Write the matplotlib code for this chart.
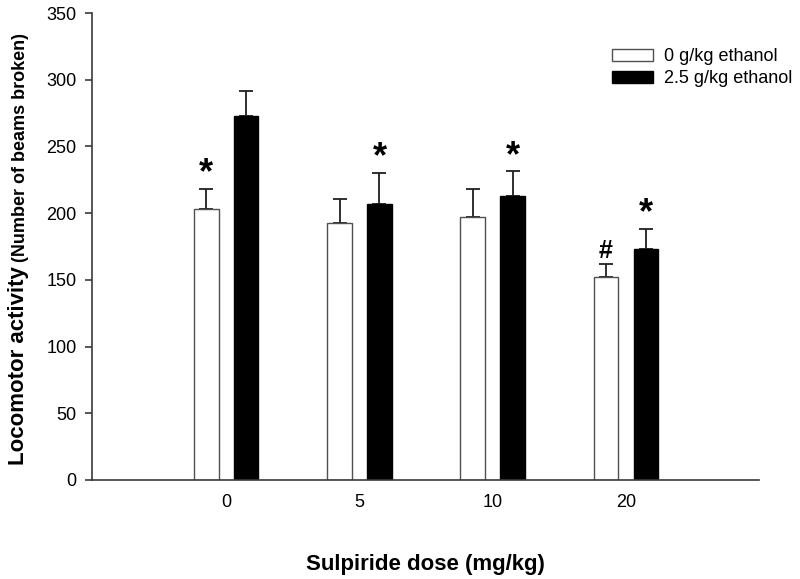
import numpy as np
import matplotlib
matplotlib.use("Agg")
import matplotlib.pyplot as plt

plt.rcParams['font.family'] = ['Liberation Sans', 'DejaVu Sans']

# sulpiride doses (mg/kg)
doses = ["0", "5", "10", "20"]

# locomotor activity, mean and SEM (upper error bar only)
water_mean = [203, 192.5, 197, 152.5]
water_sem = [15.4, 18.0, 21.0, 9.5]
ethanol_mean = [273, 206.5, 213, 173.5]
ethanol_sem = [18.4, 23.5, 18.4, 14.7]

# significance marks: (dose index, group, symbol)
marks = [(0, "water", "*"), (1, "ethanol", "*"), (2, "ethanol", "*"),
         (3, "water", "#"), (3, "ethanol", "*")]

fig = plt.figure(figsize=(8, 5.79), dpi=100)
ax = fig.add_axes([0.1146, 0.171, 0.8344, 0.8065])

x = np.arange(len(doses))
off = 0.15
width = 0.184
axis_col = "#3a3a3a"

ax.bar(x - off, water_mean, width, color="white", edgecolor="#505050",
       linewidth=1.0, label="0 g/kg ethanol", zorder=2)
ax.bar(x + off, ethanol_mean, width, color="black", edgecolor="black",
       linewidth=1.0, label="2.5 g/kg ethanol", zorder=2)

ax.errorbar(x - off, water_mean, yerr=[np.zeros(4), water_sem], fmt="none",
            ecolor="#202020", elinewidth=1.3, capsize=4.7, capthick=1.3, zorder=1)
ax.errorbar(x + off, ethanol_mean, yerr=[np.zeros(4), ethanol_sem], fmt="none",
            ecolor="#202020", elinewidth=1.3, capsize=4.7, capthick=1.3, zorder=1)

for i, grp, sym in marks:
    if grp == "water":
        xi, top = x[i] - off, water_mean[i] + water_sem[i]
    else:
        xi, top = x[i] + off, ethanol_mean[i] + ethanol_sem[i]
    size = 26 if sym == "*" else 18
    ax.annotate(sym, xy=(xi, top), xytext=(0, 4), textcoords="offset points",
                ha="center", va="baseline", fontsize=size, fontweight="bold")

ax.set_xlim(-1.01, 4.0)
ax.set_ylim(0, 350)
ax.set_yticks(range(0, 351, 50))
ax.set_xticks(x)
ax.set_xticklabels(doses)

for s in ["top", "right"]:
    ax.spines[s].set_visible(False)
for s in ["left", "bottom"]:
    ax.spines[s].set_color(axis_col)
    ax.spines[s].set_linewidth(1.2)

ax.tick_params(axis="y", length=5, width=1.2, color=axis_col, labelsize=13, pad=6)
ax.tick_params(axis="x", length=0, labelsize=13, pad=10)

ax.set_xlabel("Sulpiride dose (mg/kg)", fontsize=16, fontweight="bold", labelpad=31)

# y label in two sizes
t1 = fig.text(0.0358, 0.197, "Locomotor activity", rotation=90, rotation_mode="anchor",
              ha="left", va="bottom", fontsize=16, fontweight="bold")
ax.annotate("(Number of beams broken)", xy=(1, 1), xycoords=t1, xytext=(0, 3),
            textcoords="offset points", rotation=90, rotation_mode="anchor",
            ha="left", va="bottom", fontsize=13, fontweight="bold",
            annotation_clip=False)

ax.legend(loc="upper left", bbox_to_anchor=(612 / 800, 1 - 48 / 579),
          bbox_transform=fig.transFigure, frameon=False, fontsize=13,
          handlelength=2.28, handleheight=0.67, handletextpad=0.6,
          labelspacing=0.3, borderpad=0, borderaxespad=0)

fig.savefig("out.png", dpi=100)
